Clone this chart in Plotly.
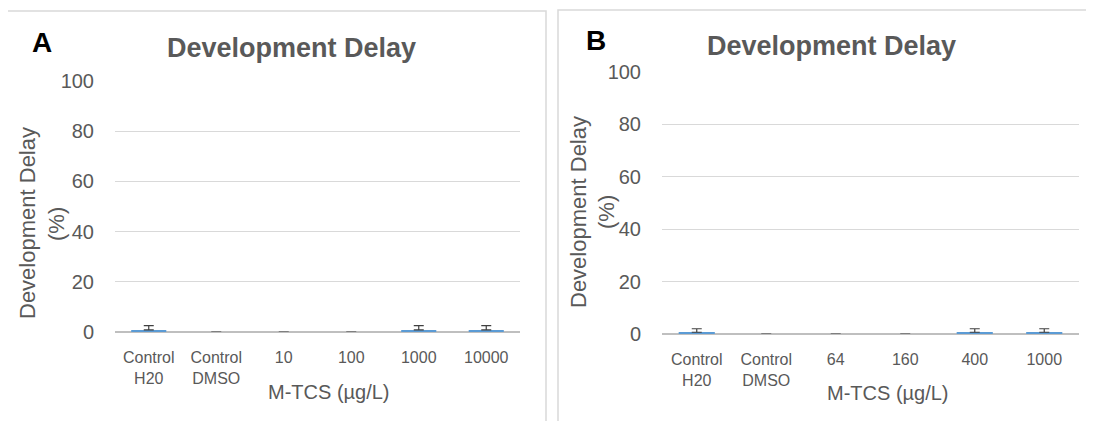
import plotly.graph_objects as go

W, H = 1094, 421
OFF = 8  # page body margin offset to compensate

# ---- data ----
cats_a = ["Control<br>H20", "Control<br>DMSO", "10", "100", "1000", "10000"]
delay_a = [0.83, 0, 0, 0, 0.83, 0.83]
err_a = [1.67, None, None, None, 1.67, 1.67]

cats_b = ["Control<br>H20", "Control<br>DMSO", "64", "160", "400", "1000"]
delay_b = [0.67, 0, 0, 0, 0.67, 0.67]
err_b = [1.33, None, None, None, 1.33, 1.33]

y_ticks = [0, 20, 40, 60, 80, 100]

chart_title = "Development Delay"
y_title_1 = "Development Delay"
y_title_2 = "(%)"
x_title = "M-TCS (µg/L)"

# ---- style ----
FONT = "Liberation Sans"
GRAY = "#595959"
BAR = "#5B9BD5"
GRID = "#D9D9D9"


def px(x):
    return (x - OFF) / W


def py(y):
    return 1 - (y - OFF) / H


fig = go.Figure()
fig.add_trace(go.Bar(
    x=cats_a, y=delay_a, marker_color=BAR, marker_line_width=0,
    error_y=dict(type="data", array=err_a, arrayminus=[0] * len(err_a),
                 symmetric=False, color="#404040", thickness=1.2, width=5),
    xaxis="x", yaxis="y", showlegend=False))
fig.add_trace(go.Bar(
    x=cats_b, y=delay_b, marker_color=BAR, marker_line_width=0,
    error_y=dict(type="data", array=err_b, arrayminus=[0] * len(err_b),
                 symmetric=False, color="#404040", thickness=1.2, width=5),
    xaxis="x2", yaxis="y2", showlegend=False))

xcommon = dict(type="category", showgrid=False, zeroline=False, showline=False,
               ticks="", tickfont=dict(family=FONT, size=16, color=GRAY),
               ticklabelstandoff=14, fixedrange=True, automargin=False)
ycommon = dict(range=[0, 100], tickvals=y_ticks, showgrid=True, gridcolor=GRID,
               gridwidth=1, zeroline=True, zerolinecolor="#BFBFBF", zerolinewidth=1.5,
               showline=False, ticks="",
               tickfont=dict(family=FONT, size=20, color=GRAY),
               ticklabelstandoff=20, fixedrange=True, automargin=False)

fig.update_layout(
    width=W, height=H,
    margin=dict(l=0, r=0, t=0, b=0, pad=0, autoexpand=False),
    paper_bgcolor="white", plot_bgcolor="white",
    bargap=0.48,
    xaxis=dict(domain=[px(115), px(520)], anchor="y", range=[-0.5, 5.5], **xcommon),
    yaxis=dict(domain=[py(332), py(81)], anchor="x", **ycommon),
    xaxis2=dict(domain=[px(662), px(1079)], anchor="y2", range=[-0.5, 5.5], **xcommon),
    yaxis2=dict(domain=[py(334), py(72)], anchor="x2", **ycommon),
)

# panel borders
fig.add_shape(type="rect", xref="paper", yref="paper",
              x0=px(6), x1=px(546), y0=py(460), y1=py(11),
              line=dict(color=GRID, width=1.5), fillcolor="rgba(0,0,0,0)", layer="below")
fig.add_shape(type="rect", xref="paper", yref="paper",
              x0=px(558), x1=px(1130), y0=py(460), y1=py(10),
              line=dict(color=GRID, width=1.5), fillcolor="rgba(0,0,0,0)", layer="below")


def ann(text, x, y, size, color=GRAY, bold=False, angle=0, family=FONT):
    fig.add_annotation(text=("<b>%s</b>" % text) if bold else text,
                       x=px(x), y=py(y), xref="paper", yref="paper",
                       xanchor="center", yanchor="middle", showarrow=False,
                       textangle=angle, font=dict(family=family, size=size, color=color))


# panel letters
ann("A", 42, 42, 28, color="black", bold=True)
ann("B", 596, 40, 28, color="black", bold=True)
# titles
ann(chart_title, 291, 48, 27, bold=True)
ann(chart_title, 831, 46, 27, bold=True)
# y-axis titles
ann(y_title_1, 27, 223, 22, angle=-90)
ann(y_title_2, 56, 224, 22, angle=-90)
ann(y_title_1, 578, 212, 22, angle=-90)
ann(y_title_2, 606, 212, 22, angle=-90)
# x-axis titles
ann(x_title, 329, 392, 20)
ann(x_title, 888, 393, 20)

fig.write_html("out.html")
